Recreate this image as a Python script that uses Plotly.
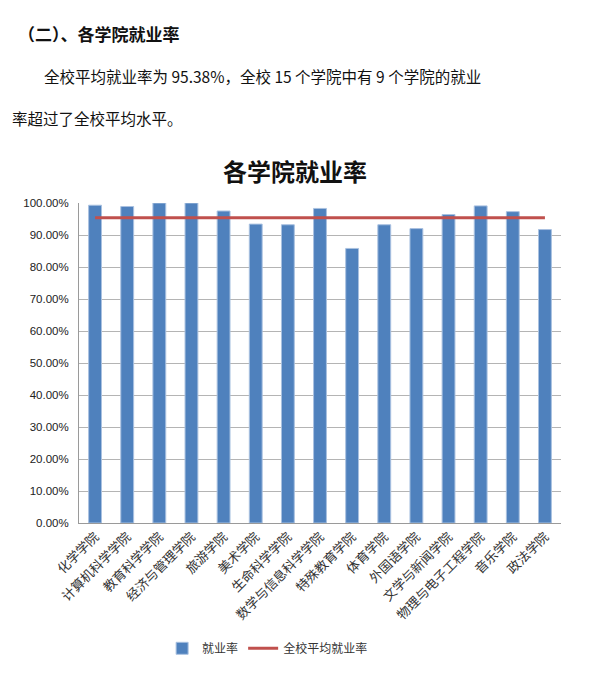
import plotly.graph_objects as go

colleges = ["化学学院", "计算机科学学院", "教育科学学院", "经济与管理学院", "旅游学院",
            "美术学院", "生命科学学院", "数学与信息科学学院", "特殊教育学院", "体育学院",
            "外国语学院", "文学与新闻学院", "物理与电子工程学院", "音乐学院", "政法学院"]
rates = [0.993, 0.989, 1.000, 1.000, 0.975, 0.934, 0.932, 0.983, 0.858, 0.932,
         0.920, 0.964, 0.991, 0.973, 0.917]
avg_rate = 0.9538
avg_series = [avg_rate] * len(colleges)

heading = "（二）、各学院就业率"
para1 = "全校平均就业率为 95.38%，全校 15 个学院中有 9 个学院的就业"
para2 = "率超过了全校平均水平。"
chart_title = "各学院就业率"

O = 8  # page body margin
W, H = 613 - O, 681 - O
L, R, T, B = 79.3 - O, 561.5 - O, 202.7 - O, 522.7 - O

def px(x):
    return (x - O - L) / (R - L)

def py(y):
    return (B - (y - O)) / (B - T)

CJK = "Noto Sans CJK SC"

fig = go.Figure()
fig.add_trace(go.Bar(
    x=colleges, y=rates, name="就业率",
    marker=dict(color="#4F81BD", line=dict(color="#A9C1E0", width=1)),
))
fig.add_trace(go.Scatter(
    x=colleges, y=avg_series, name="全校平均就业率", mode="lines",
    line=dict(color="#C0504D", width=3),
))

fig.update_layout(
    width=W, height=H,
    margin=dict(l=L, r=W - R, t=T, b=H - B, pad=0),
    paper_bgcolor="white", plot_bgcolor="white",
    bargap=0.6,
    showlegend=True,
    legend=dict(orientation="h", x=px(268), xanchor="center", y=py(648), yanchor="middle",
                font=dict(family=CJK, size=12, color="#333333"),
                itemwidth=30, tracegroupgap=0),
    font=dict(family=CJK),
)

fig.update_yaxes(range=[0, 1], dtick=0.1, tickformat=".2%",
                 showgrid=True, gridcolor="#B4B4B4", gridwidth=1,
                 showline=True, linecolor="#9A9A9A", linewidth=1,
                 ticks="", ticklabelstandoff=7,
                 tickfont=dict(family="Liberation Sans", size=11.5, color="#222222"),
                 zeroline=False)
fig.update_xaxes(showline=True, linecolor="#9A9A9A", linewidth=1,
                 tickangle=-45, ticks="",
                 tickfont=dict(family=CJK, size=13, color="#333333"))

ann = [
    dict(text="<b>" + chart_title + "</b>", x=px(295), y=py(170),
         font=dict(size=24, color="#111111", family=CJK), xanchor="center", yanchor="middle"),
    dict(text="<b>" + heading + "</b>", x=px(16), y=py(33),
         font=dict(size=17, color="#111111", family=CJK), xanchor="left", yanchor="middle"),
    dict(text=para1, x=px(42), y=py(76), font=dict(size=15.5, color="#111111", family=CJK),
         xanchor="left", yanchor="middle"),
    dict(text=para2, x=px(10), y=py(118), font=dict(size=15.5, color="#111111", family=CJK),
         xanchor="left", yanchor="middle"),
]
for a in ann:
    fig.add_annotation(xref="paper", yref="paper", showarrow=False, **a)

fig.write_html("out.html")
